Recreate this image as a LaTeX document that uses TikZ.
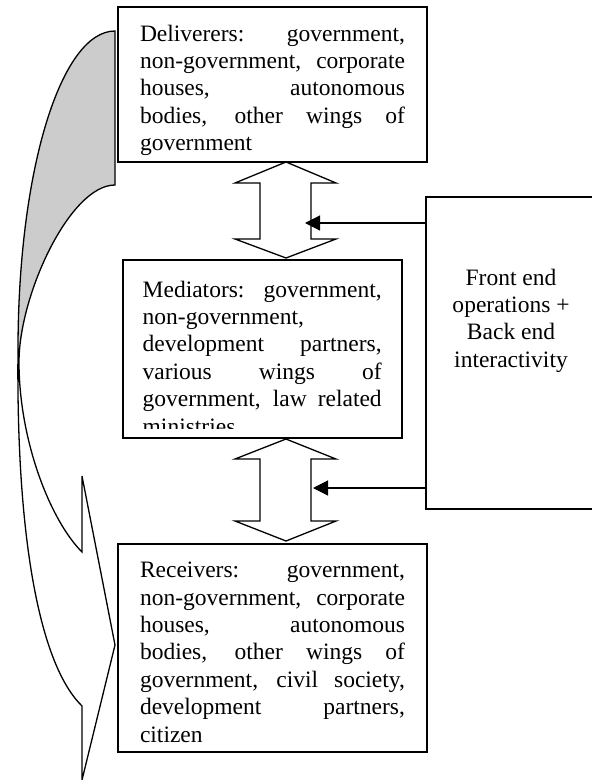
\documentclass[tikz,border=0pt]{standalone}
\usepackage{fontspec}
\setmainfont{Liberation Serif}
\usetikzlibrary{
  arrows.meta,
  positioning,
}
\tikzset{
  >={Triangle[length=7.5pt,width=7.5pt]},
}

\begin{document}
\begin{tikzpicture}[
      x=0.5pt, y=-0.5pt,
      every node/.style={font=\fontsize{11.75}{13.7}\selectfont},
      frame/.style={draw, line width=0.7pt, rectangle, inner sep=0pt},
      box/.style={frame, inner xsep=11pt, text width=132.5pt, align=justify,
        execute at begin node={\tolerance=10000 \hyphenpenalty=10000}},
      boxtext/.style={inner sep=0pt, text width=119.5pt, align=justify,
        execute at begin node={\tolerance=10000 \hyphenpenalty=10000}},
      blockarrow/.style={draw, line width=0.65pt},
      feed/.style={->, line width=0.6pt},
    ]
      \useasboundingbox (0,0) rectangle (592,780);

      % the three boxes
      \node [box, minimum height=77.5pt] (deliv) at (272.5,84.5) {\rule{0pt}{14pt}Deliverers: government,\linebreak non-government, corporate\linebreak houses, autonomous\linebreak bodies, other wings of\linebreak government};
      \node [frame, minimum width=139.5pt, minimum height=89pt] (medi) at (262.5,349) {};
      \begin{scope}
        \clip (medi.north west) rectangle ([yshift=5pt]medi.south east);
        \node [boxtext, below right=10.5pt and 10pt of medi.north west] (meditext) {Mediators: government,\linebreak non-government,\newline development partners,\linebreak various wings of\linebreak government, law related\linebreak ministries};
      \end{scope}
      \node [box, minimum height=104pt] (recv) at (272.5,648) {\rule{0pt}{12pt}Receivers: government,\linebreak non-government, corporate\linebreak houses, autonomous\linebreak bodies, other wings of\linebreak government, civil society,\linebreak development partners,\linebreak citizen};

      % side box
      \node [frame, minimum width=85pt, minimum height=156pt] (front) at (511,353) {};
      \node [below=36pt of front.north, inner sep=0pt, align=center] (frontlabel) {Front end\\operations +\\Back end\\interactivity};

      % double arrows between the boxes
      \draw [blockarrow] (286,162) -- (336,183) -- (311,183) -- (311,239) -- (336,239) -- (286,258)
        -- (235,239) -- (260,239) -- (260,183) -- (235,183) -- cycle;
      \draw [blockarrow] (286,439) -- (336,459) -- (311,459) -- (311,521) -- (336,521) -- (286,541)
        -- (235,521) -- (260,521) -- (260,459) -- (235,459) -- cycle;

      \coordinate (in1) at (305,223);
      \coordinate (in2) at (313,488);
      \draw [feed] (front.west |- in1) -- (in1);
      \draw [feed] (front.west |- in2) -- (in2);

      % curved arrow on the left
      \fill [gray!40] (115,185) -- (115,31) .. controls (61,31) and (18,170) .. (18,350)
        -- (19,362) .. controls (19,295) and (70,185) .. (115,185) -- cycle;
      \draw [blockarrow] (115,185) -- (115,31) .. controls (61,31) and (18,170) .. (18,350)
        .. controls (16,540) and (40,665) .. (82,706) -- (82,780) -- (115,645) -- (82,476) -- (82,552)
        .. controls (50,520) and (19,440) .. (19,362) .. controls (19,295) and (70,185) .. (115,185) -- cycle;
    \end{tikzpicture}
\end{document}
